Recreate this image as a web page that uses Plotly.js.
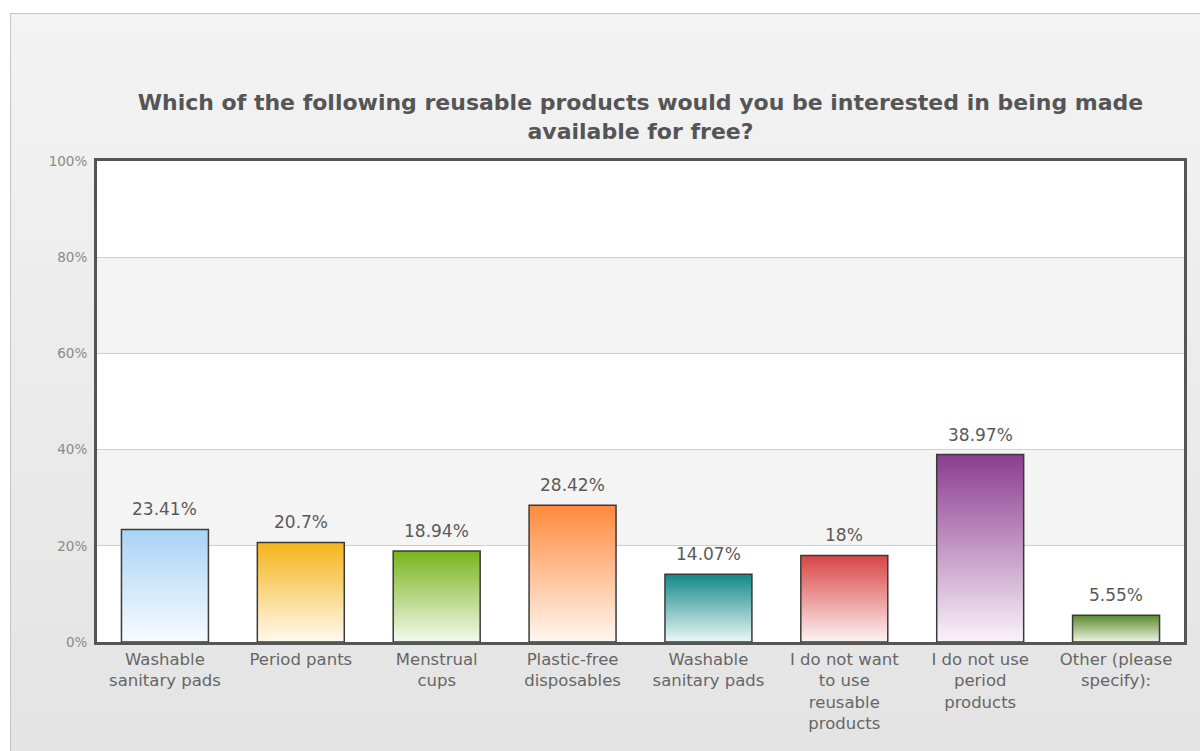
<!DOCTYPE html>
<html>
<head>
<meta charset="utf-8">
<script src="https://cdn.plot.ly/plotly-3.0.1.min.js"></script>
<style>
  html, body { margin: 0; padding: 0; background: #ffffff; width: 1200px; height: 751px; overflow: hidden; }
  #panel { position: absolute; left: 10px; top: 13px; width: 1200px; height: 760px;
           border: 1px solid #c4c4c4; background: linear-gradient(#f3f3f3, #e3e3e3); }
  #chart { position: absolute; left: 0; top: 0; width: 1200px; height: 751px; }
</style>
</head>
<body>
<div id="panel"></div>
<div id="chart"></div>
<script>
const categories = [
  'Washable<br>sanitary pads',
  'Period pants',
  'Menstrual<br>cups',
  'Plastic-free<br>disposables',
  'Washable<br>sanitary pads',
  'I do not want<br>to use<br>reusable<br>products',
  'I do not use<br>period<br>products',
  'Other (please<br>specify):'
];
const values = [23.41, 20.7, 18.94, 28.42, 14.07, 18, 38.97, 5.55];
const valueLabels = ['23.41%', '20.7%', '18.94%', '28.42%', '14.07%', '18%', '38.97%', '5.55%'];
const yTicks = [0, 20, 40, 60, 80, 100];
const yTickLabels = ['0%', '20%', '40%', '60%', '80%', '100%'];
const topColors = ['#a9d3f5', '#f5b419', '#79b41c', '#ff8a3d', '#138888', '#d84545', '#8c3c90', '#5a8a2b'];
const bottomColors = ['#f7fbff', '#fffaef', '#f4f9ec', '#fff7f1', '#eaf8f7', '#fdf3f3', '#faf3fa', '#eef5e6'];

const positions = categories.map((c, i) => i);
const font = 'DejaVu Sans, Verdana, sans-serif';

const trace = {
  type: 'bar',
  x: positions,
  y: values,
  width: 0.64,
  marker: { color: topColors, line: { color: '#3a3a3a', width: 1.5 } },
  hoverinfo: 'none'
};

const annotations = values.map((v, i) => ({
  x: positions[i], y: v, xref: 'x', yref: 'y',
  text: valueLabels[i], showarrow: false, yanchor: 'bottom', yshift: 8,
  font: { family: font, size: 17, color: '#5a5a5a' }
}));

const shapes = [[20, 40], [60, 80]].map(([a, b]) => ({
  type: 'rect', xref: 'paper', yref: 'y', x0: 0, x1: 1, y0: a, y1: b,
  fillcolor: '#f4f4f4', line: { width: 0 }, layer: 'below'
}));

const layout = {
  width: 1200, height: 751,
  margin: { l: 97, r: 16, t: 161, b: 109 },
  paper_bgcolor: 'rgba(0,0,0,0)',
  plot_bgcolor: '#ffffff',
  showlegend: false,
  title: {
    text: 'Which of the following reusable products would you be interested in being made<br>available for free?',
    font: { family: font, size: 22, color: '#555555', weight: 'bold' },
    x: 0.5, xref: 'paper', xanchor: 'center',
    y: 1 - 110 / 751, yref: 'container', yanchor: 'top'
  },
  xaxis: {
    range: [-0.5, categories.length - 0.5],
    tickmode: 'array', tickvals: positions, ticktext: categories,
    showgrid: false, zeroline: false, ticks: '',
    showline: true, linecolor: '#555555', linewidth: 3, mirror: true,
    tickfont: { family: font, size: 16.5, color: '#666666' }
  },
  yaxis: {
    range: [0, 100],
    tickmode: 'array', tickvals: yTicks, ticktext: yTickLabels,
    showgrid: true, gridcolor: '#cfcfcf', gridwidth: 1, zeroline: false, ticks: '',
    showline: true, linecolor: '#555555', linewidth: 3, mirror: true,
    ticklabelstandoff: 4,
    tickfont: { family: font, size: 13.5, color: '#8a8a8a' }
  },
  shapes: shapes,
  annotations: annotations
};

Plotly.newPlot('chart', [trace], layout, { staticPlot: true, displayModeBar: false }).then(gd => {
  const svg = gd.querySelector('svg.main-svg');
  const NS = 'http://www.w3.org/2000/svg';
  let defs = svg.querySelector('defs');
  if (!defs) { defs = document.createElementNS(NS, 'defs'); svg.insertBefore(defs, svg.firstChild); }
  topColors.forEach((c, i) => {
    const g = document.createElementNS(NS, 'linearGradient');
    g.setAttribute('id', 'barGrad' + i);
    g.setAttribute('x1', '0'); g.setAttribute('y1', '0');
    g.setAttribute('x2', '0'); g.setAttribute('y2', '1');
    const s1 = document.createElementNS(NS, 'stop');
    s1.setAttribute('offset', '0'); s1.setAttribute('stop-color', c);
    const s2 = document.createElementNS(NS, 'stop');
    s2.setAttribute('offset', '1'); s2.setAttribute('stop-color', bottomColors[i]);
    g.appendChild(s1); g.appendChild(s2);
    defs.appendChild(g);
  });
  gd.querySelectorAll('.trace.bars .point path').forEach((p, i) => {
    p.style.fill = 'url(#barGrad' + i + ')';
  });
});
</script>
</body>
</html>
